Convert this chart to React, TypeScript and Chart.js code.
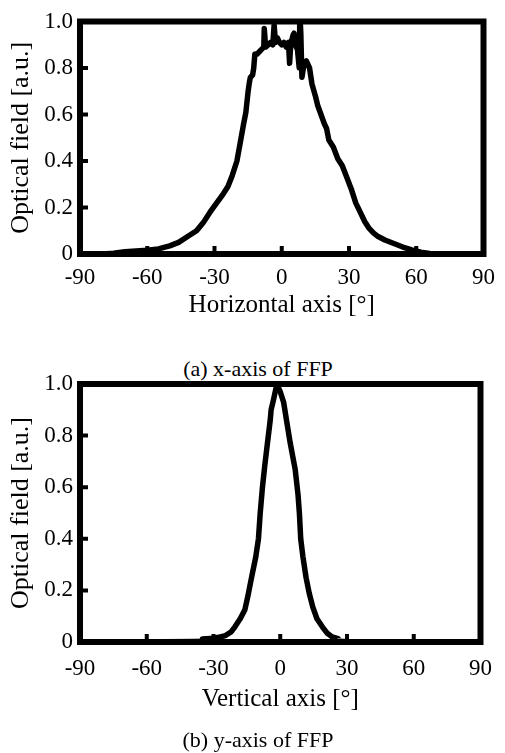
import React, { useEffect, useRef } from "react";
import { Chart, registerables } from "chart.js";

Chart.register(...registerables);

// (a) horizontal far-field pattern
const hAngles = [
  -90, -80, -75, -70, -65, -60, -55, -50, -46, -42, -38, -35, -32, -29, -26, -24, -22, -20,
  -18.5, -17, -16, -15, -14.4, -14, -13, -12.5, -12, -11, -10, -9, -8, -7.8, -7.2, -6, -5, -4,
  -3.4, -2.8, -2, -1, 0, 1, 2, 3, 3.5, 4, 5, 5.5, 6, 7, 7.8, 8, 8.5, 9, 10, 11, 12.4, 13.5, 15,
  16, 17.5, 19, 20, 21, 23, 25, 27, 29, 31, 33, 35, 37, 39, 41, 43, 46, 50, 54, 58, 62, 66, 70,
  80, 90,
];
const hValues = [
  0, 0, 0.003, 0.01, 0.013, 0.016, 0.022, 0.035, 0.05, 0.075, 0.1, 0.135, 0.18, 0.22, 0.26, 0.29,
  0.34, 0.4, 0.48, 0.56, 0.61, 0.7, 0.74, 0.76, 0.77, 0.8, 0.86, 0.86, 0.87, 0.88, 0.89, 0.97,
  0.89, 0.9, 0.91, 0.9, 0.985, 0.91, 0.93, 0.91, 0.9, 0.91, 0.89, 0.91, 0.82, 0.9, 0.94, 0.95,
  0.9, 0.88, 0.8, 1.05, 0.95, 0.76, 0.82, 0.83, 0.8, 0.73, 0.68, 0.64, 0.6, 0.56, 0.54, 0.49,
  0.46, 0.41, 0.38, 0.33, 0.28, 0.22, 0.18, 0.14, 0.11, 0.09, 0.075, 0.06, 0.045, 0.03, 0.018,
  0.008, 0.002, 0, 0, 0,
];

// (b) vertical far-field pattern
const vAngles = [
  -90, -75, -60, -45, -35, -30, -27, -24.6, -22, -20.3, -18, -15.9, -14.5, -12.9, -11, -9.8, -9,
  -8, -7, -5.9, -4.5, -4.1, -3, -1.5, 0, 1.5, 3, 4.5, 6.7, 8, 8.6, 9.2, 10.2, 11.6, 13, 14.6,
  16.5, 19, 21, 23.3, 26, 30, 45, 60, 75, 90,
];
const vValues = [
  0.005, 0.006, 0.008, 0.01, 0.012, 0.015, 0.02, 0.025, 0.04, 0.06, 0.09, 0.125, 0.18, 0.25, 0.33,
  0.4, 0.5, 0.6, 0.68, 0.76, 0.86, 0.9, 0.94, 1.0, 0.97, 0.93, 0.85, 0.77, 0.67, 0.57, 0.5, 0.4,
  0.33, 0.25, 0.19, 0.136, 0.09, 0.058, 0.035, 0.02, 0.013, 0.01, 0.009, 0.008, 0.007, 0.005,
];

const innerXTicks = [-60, -30, 0, 30, 60];
const innerYTicks = [0.2, 0.4, 0.6, 0.8];
const FONT = "'Liberation Serif', 'Times New Roman', serif";

const framePlugin = {
  id: "frame",
  afterDatasetsDraw(chart: any) {
    const { ctx, chartArea, scales } = chart;
    const { left, right, top, bottom } = chartArea;
    ctx.save();
    ctx.strokeStyle = "#000";
    ctx.lineWidth = 4;
    ctx.beginPath();
    innerXTicks.forEach((v) => {
      const px = scales.x.getPixelForValue(v);
      ctx.moveTo(px, bottom);
      ctx.lineTo(px, bottom - 8);
    });
    innerYTicks.forEach((v) => {
      const py = scales.y.getPixelForValue(v);
      ctx.moveTo(left, py);
      ctx.lineTo(left + 8, py);
    });
    ctx.stroke();
    ctx.lineWidth = 6;
    ctx.lineJoin = "miter";
    ctx.strokeRect(left, top, right - left, bottom - top);
    ctx.restore();
  },
};

type Opts = {
  angles: number[];
  values: number[];
  xTitle: string;
  padding: { top: number; right: number; bottom: number; left: number };
  xAxisHeight: number;
  tickPad: number;
  titlePadBottom: number;
  thinTail: boolean;
};

function makeConfig(o: Opts): any {
  const data = o.angles.map((a, i) => ({ x: a, y: o.values[i] }));
  const thin = (c: any) =>
    o.thinTail && c.p0.parsed.y < 0.0135 && c.p1.parsed.y < 0.0135;
  return {
    type: "line",
    data: {
      datasets: [
        {
          data,
          borderColor: "#000",
          borderWidth: 5.5,
          pointRadius: 0,
          tension: 0,
          fill: false,
          borderJoinStyle: "round",
          borderCapStyle: "round",
          segment: {
            borderWidth: (c: any) => (thin(c) ? 1.5 : 5.5),
            borderColor: (c: any) => (thin(c) ? "#888" : "#000"),
          },
        },
      ],
    },
    options: {
      responsive: false,
      animation: false,
      devicePixelRatio: 1,
      layout: { padding: o.padding },
      plugins: { legend: { display: false }, tooltip: { enabled: false } },
      scales: {
        x: {
          type: "linear",
          min: -90,
          max: 90,
          ticks: {
            stepSize: 30,
            padding: o.tickPad,
            color: "#000",
            font: { family: FONT, size: 23 },
            maxRotation: 0,
          },
          grid: { display: false, drawTicks: false },
          border: { display: false },
          title: {
            display: true,
            text: o.xTitle,
            color: "#000",
            font: { family: FONT, size: 25 },
            padding: { top: 0, bottom: o.titlePadBottom },
          },
          afterFit: (s: any) => {
            s.height = o.xAxisHeight;
          },
        },
        y: {
          min: 0,
          max: 1,
          ticks: {
            stepSize: 0.2,
            padding: 7,
            color: "#000",
            font: { family: FONT, size: 23 },
            callback: (v: any) => (Math.abs(v) < 1e-9 ? "0" : Number(v).toFixed(1)),
          },
          grid: { display: false, drawTicks: false },
          border: { display: false },
          title: {
            display: true,
            text: "Optical field [a.u.]",
            color: "#000",
            font: { family: FONT, size: 26 },
            padding: { top: 6, bottom: 0 },
          },
          afterFit: (s: any) => {
            s.width = 80;
          },
        },
      },
    },
    plugins: [framePlugin],
  };
}

function ChartCanvas({ top, height, opts }: { top: number; height: number; opts: Opts }) {
  const ref = useRef<HTMLCanvasElement | null>(null);
  useEffect(() => {
    if (!ref.current) return;
    const chart = new Chart(ref.current, makeConfig(opts));
    return () => chart.destroy();
  }, []);
  return (
    <canvas
      ref={ref}
      width={505}
      height={height}
      style={{ position: "absolute", left: 0, top, width: 505, height }}
    />
  );
}

const captionStyle = (top: number): React.CSSProperties => ({
  position: "absolute",
  left: 0,
  top,
  width: 516,
  textAlign: "center",
  fontFamily: FONT,
  fontSize: 22,
  lineHeight: "26px",
  color: "#000",
});

export default function App() {
  return (
    <div
      style={{
        position: "fixed",
        left: 0,
        top: 0,
        width: 505,
        height: 753,
        background: "#fff",
        overflow: "hidden",
      }}
    >
      <ChartCanvas
        top={0}
        height={324}
        opts={{
          angles: hAngles,
          values: hValues,
          xTitle: "Horizontal axis [°]",
          padding: { top: 21.5, right: 15.5, bottom: 0, left: 0 },
          xAxisHeight: 70,
          tickPad: 10,
          titlePadBottom: 4,
          thinTail: false,
        }}
      />
      <div style={captionStyle(356)}>(a) x-axis of FFP</div>
      <ChartCanvas
        top={330}
        height={423}
        opts={{
          angles: vAngles,
          values: vValues,
          xTitle: "Vertical axis [°]",
          padding: { top: 54, right: 12, bottom: 38, left: 0 },
          xAxisHeight: 73,
          tickPad: 13,
          titlePadBottom: 1,
          thinTail: true,
        }}
      />
      <div style={captionStyle(727)}>(b) y-axis of FFP</div>
    </div>
  );
}
